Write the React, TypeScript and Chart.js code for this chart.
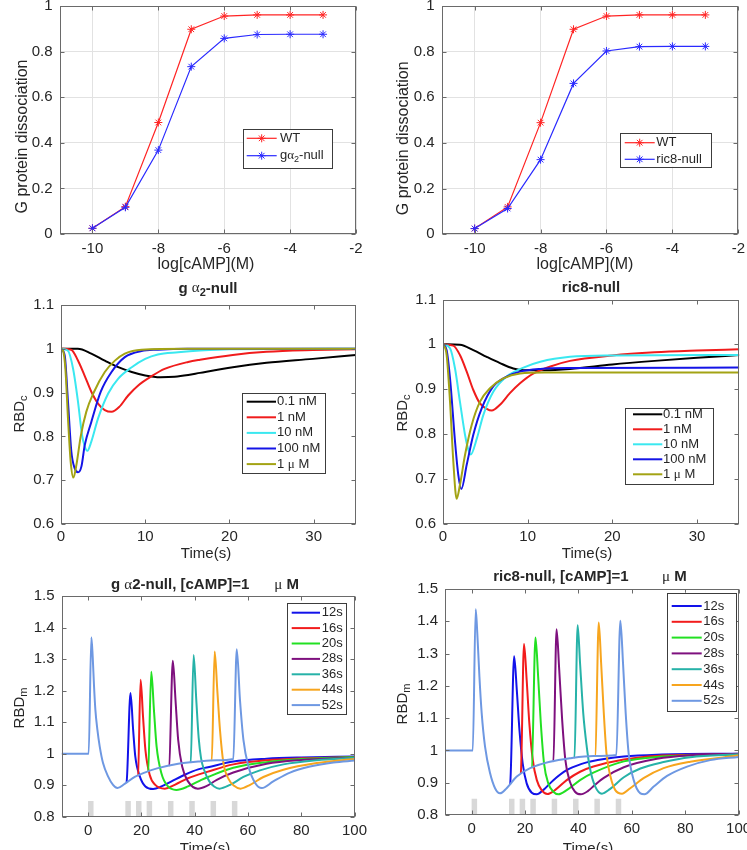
import React, { useEffect, useRef } from 'react';
import { Chart, registerables } from 'chart.js';

Chart.register(...registerables);

// ---------- data: dose response ----------
const LOG_CAMP = [-10, -9, -8, -7, -6, -5, -4, -3];
const WT_DISSOC = [0.025, 0.12, 0.489, 0.898, 0.956, 0.961, 0.961, 0.961];
const GA2_DISSOC = [0.025, 0.117, 0.368, 0.734, 0.858, 0.875, 0.876, 0.876];
const RIC8_DISSOC = [0.025, 0.113, 0.327, 0.661, 0.803, 0.822, 0.823, 0.823];
const LOG_TICKS = [-10, -8, -6, -4, -2];
const DISSOC_TICKS = [0, 0.2, 0.4, 0.6, 0.8, 1];

// ---------- data: cytosolic RBD after a single step, [t (s), RBDc] ----------
const C_LABELS = ['0.1 nM', '1 nM', '10 nM', '100 nM', '1 μ M'];
const GA2_C_01NM = [[0, 1], [2, 1], [3.6, 0.989], [5.2, 0.973], [6.8, 0.958], [8.4, 0.947], [10, 0.939], [11.8, 0.935], [13.5, 0.936], [15.1, 0.94], [16.5, 0.945], [20.4, 0.958], [24.4, 0.968], [29.9, 0.977], [35, 0.986]];
const GA2_C_1NM = [[0, 1], [1.2, 0.998], [2, 0.974], [2.8, 0.939], [3.6, 0.902], [4.4, 0.875], [5.2, 0.86], [6, 0.856], [6.9, 0.867], [8, 0.894], [9.2, 0.917], [10.8, 0.938], [12.3, 0.954], [15.1, 0.97], [16.5, 0.975], [20.4, 0.986], [24.4, 0.993], [29.9, 0.997], [35, 0.999]];
const GA2_C_10NM = [[0, 1], [0.8, 0.996], [1.43, 0.955], [2.02, 0.879], [2.5, 0.803], [2.82, 0.777], [3.13, 0.767], [3.6, 0.788], [4.4, 0.841], [5.6, 0.898], [6.8, 0.932], [8.4, 0.958], [10, 0.977], [11.5, 0.987], [13.9, 0.992], [16.5, 0.996], [20, 0.999], [35, 1]];
const GA2_C_100NM = [[0, 1], [0.44, 0.985], [0.83, 0.879], [1.23, 0.765], [1.63, 0.727], [2.02, 0.718], [2.42, 0.731], [2.82, 0.78], [3.6, 0.833], [4.72, 0.902], [6, 0.947], [7.58, 0.981], [9.56, 0.995], [11.5, 0.998], [15, 1], [35, 1]];
const GA2_C_1UM = [[0, 1], [0.24, 0.996], [0.52, 0.955], [0.83, 0.841], [1.15, 0.742], [1.47, 0.706], [1.83, 0.735], [2.34, 0.8], [3, 0.856], [3.93, 0.902], [5.2, 0.947], [6.4, 0.973], [7.58, 0.989], [9.56, 0.998], [15, 1], [35, 1]];

const RIC8_C_01NM = [[0, 1], [2, 0.999], [3.58, 0.987], [5.16, 0.972], [6.73, 0.958], [8.3, 0.946], [9.5, 0.942], [12, 0.942], [15, 0.945], [20, 0.955], [25, 0.963], [30, 0.97], [35, 0.976]];
const RIC8_C_1NM = [[0, 1], [1.22, 0.997], [2, 0.976], [2.8, 0.939], [3.58, 0.898], [4.37, 0.868], [5.16, 0.856], [5.75, 0.852], [6.73, 0.865], [7.9, 0.891], [9.1, 0.913], [10.7, 0.935], [12.6, 0.95], [15, 0.963], [20, 0.975], [25, 0.982], [30, 0.986], [35, 0.989]];
const RIC8_C_10NM = [[0, 1], [0.83, 0.991], [1.42, 0.946], [2, 0.872], [2.6, 0.798], [3, 0.764], [3.27, 0.754], [4, 0.79], [4.76, 0.842], [5.94, 0.894], [7.52, 0.928], [9.5, 0.948], [11.5, 0.961], [15, 0.972], [20, 0.975], [35, 0.976]];
const RIC8_C_100NM = [[0, 1], [0.43, 0.987], [0.83, 0.924], [1.42, 0.783], [1.81, 0.708], [2.17, 0.677], [2.8, 0.731], [3.58, 0.798], [4.57, 0.857], [5.94, 0.906], [7.52, 0.928], [9.1, 0.939], [11.5, 0.945], [15, 0.947], [35, 0.948]];
const RIC8_C_1UM = [[0, 1], [0.43, 0.976], [0.83, 0.872], [1.22, 0.738], [1.61, 0.655], [2, 0.686], [2.6, 0.753], [3.39, 0.82], [4.37, 0.872], [5.55, 0.902], [7.13, 0.924], [9.1, 0.935], [12, 0.937], [35, 0.937]];

const TIME_C_TICKS = [0, 10, 20, 30];
const RBDC_TICKS = [0.6, 0.7, 0.8, 0.9, 1, 1.1];

// ---------- data: membrane RBD, paired pulses of 1 μM, [t (s), RBDm] ----------
const M_LABELS = ['12s', '16s', '20s', '28s', '36s', '44s', '52s'];
const STIM_T = [1, 15, 19, 23, 31, 39, 47, 55];

const GA2_M_FIRST = [[-10, 1], [0.2, 1], [1.2, 1.369], [1.71, 1.308], [2.22, 1.213], [2.72, 1.139], [3.47, 1.076], [4.34, 1.023], [5.59, 0.97], [7.47, 0.928], [9.35, 0.901], [11, 0.891], [13.7, 0.904], [17.5, 0.926], [21.2, 0.94], [26.2, 0.954], [33.8, 0.968], [41.3, 0.975], [48.3, 0.979], [54.5, 0.983]];
const GA2_M_12S = [[14.4, 0.908], [15.9, 1.192], [16.9, 1.075], [17.7, 0.991], [19.4, 0.928], [21.5, 0.896], [24.4, 0.888], [27.5, 0.896], [31.3, 0.912], [36.3, 0.933], [41.3, 0.95], [45, 0.957], [54.5, 0.975], [67, 0.984], [80, 0.988], [100, 0.991]];
const GA2_M_16S = [[18.7, 0.929], [19.7, 1.234], [20.6, 1.118], [21.5, 1.012], [23.1, 0.933], [25.2, 0.901], [28.8, 0.889], [32.5, 0.901], [37.5, 0.922], [45, 0.943], [54.5, 0.966], [67, 0.979], [80, 0.985], [100, 0.989]];
const GA2_M_20S = [[22.5, 0.943], [23.7, 1.26], [24.7, 1.139], [25.7, 1.023], [27.5, 0.938], [30, 0.896], [33.1, 0.885], [37.5, 0.896], [42.5, 0.917], [45, 0.926], [54.5, 0.955], [67, 0.973], [80, 0.983], [100, 0.989]];
const GA2_M_28S = [[30.4, 0.962], [31.8, 1.295], [32.8, 1.17], [33.8, 1.044], [35.3, 0.959], [37.5, 0.912], [41.2, 0.889], [44.4, 0.897], [48.3, 0.917], [54.5, 0.94], [67, 0.968], [80, 0.98], [100, 0.988]];
const GA2_M_36S = [[38.5, 0.972], [39.6, 1.313], [40.6, 1.17], [41.5, 1.05], [42.4, 0.985], [43.7, 0.945], [45.5, 0.912], [47.3, 0.896], [49.3, 0.889], [53.3, 0.901], [58.3, 0.926], [64.5, 0.947], [73.3, 0.966], [85.8, 0.979], [100, 0.987]];
const GA2_M_44S = [[46.4, 0.978], [47.5, 1.324], [48.5, 1.2], [49.5, 1.075], [50.8, 0.97], [52.7, 0.92], [54.8, 0.898], [57.2, 0.889], [60.8, 0.901], [65.8, 0.926], [73.3, 0.949], [85.8, 0.97], [100, 0.983]];
const GA2_M_52S = [[54.5, 0.983], [55.8, 1.331], [57, 1.171], [58.3, 1.044], [60.2, 0.959], [62.7, 0.907], [65.2, 0.891], [69.5, 0.912], [75.8, 0.94], [83.3, 0.959], [92.1, 0.972], [100, 0.978]];

const RIC8_M_FIRST = [[-10, 1], [0.4, 1], [1.5, 1.437], [2.1, 1.363], [2.9, 1.228], [3.75, 1.115], [5, 1.012], [6.9, 0.929], [8.75, 0.883], [10.6, 0.867], [13.1, 0.883], [16.9, 0.919], [21.9, 0.945], [29.3, 0.965], [36.8, 0.976], [45.6, 0.983], [54.2, 0.986]];
const RIC8_M_12S = [[14.4, 0.895], [15.9, 1.292], [16.9, 1.187], [17.9, 1.063], [19.1, 0.96], [20.6, 0.898], [22.5, 0.869], [24.4, 0.864], [26.8, 0.877], [30.6, 0.908], [35.6, 0.939], [41.8, 0.96], [44.5, 0.966], [57, 0.981], [69.4, 0.987], [100, 0.99]];
const RIC8_M_16S = [[18.4, 0.93], [19.6, 1.33], [20.6, 1.218], [21.6, 1.084], [22.9, 0.97], [24.4, 0.908], [26.2, 0.877], [28.4, 0.865], [31.2, 0.877], [35.6, 0.908], [40.6, 0.934], [45.6, 0.95], [57, 0.972], [69.4, 0.983], [100, 0.988]];
const RIC8_M_20S = [[22.5, 0.946], [23.9, 1.35], [24.9, 1.228], [25.9, 1.084], [27.1, 0.96], [28.7, 0.898], [30.6, 0.872], [32.5, 0.864], [35.6, 0.877], [40.6, 0.908], [45.6, 0.931], [57, 0.966], [69.4, 0.98], [100, 0.987]];
const RIC8_M_28S = [[30.6, 0.966], [31.8, 1.375], [32.8, 1.249], [33.9, 1.094], [35.1, 0.97], [36.8, 0.903], [38.7, 0.872], [40.9, 0.864], [43.5, 0.874], [46, 0.892], [49.5, 0.915], [57, 0.948], [69.4, 0.974], [81.9, 0.985], [100, 0.99]];
const RIC8_M_36S = [[38.5, 0.977], [39.7, 1.388], [40.6, 1.27], [41.8, 1.115], [43.1, 1.012], [44.3, 0.945], [46.3, 0.888], [48.8, 0.866], [51.9, 0.881], [57, 0.917], [63.2, 0.944], [71.9, 0.964], [81.9, 0.979], [100, 0.988]];
const RIC8_M_44S = [[46.3, 0.984], [47.6, 1.396], [48.5, 1.27], [49.5, 1.115], [50.5, 0.991], [52, 0.919], [53.8, 0.877], [56.3, 0.866], [59.4, 0.883], [64.4, 0.914], [71.9, 0.945], [81.9, 0.965], [100, 0.984]];
const RIC8_M_52S = [[54.2, 0.986], [55.7, 1.402], [56.7, 1.27], [57.7, 1.115], [58.8, 0.991], [60.7, 0.908], [63.2, 0.867], [64.7, 0.864], [68.2, 0.888], [73.2, 0.921], [80.7, 0.95], [89.4, 0.97], [100, 0.98]];

const TIME_M_TICKS = [0, 20, 40, 60, 80, 100];
const RBDM_TICKS = [0.8, 0.9, 1, 1.1, 1.2, 1.3, 1.4, 1.5];

// ---------- styling ----------
const W = 747;
const H = 850;
const YW = 40;
const XH = 30;
const FONT = '"Liberation Sans", Arial, Helvetica, sans-serif';
const GREEK_FONT = '"Liberation Serif", "DejaVu Serif", serif';
const INK = '#262626';
const FRAME = '#6a6a6a';
const GRID = '#e2e2e2';
const RED_THIN = '#ff2424';
const BLUE_THIN = '#2a2aff';
const C_COLORS = ['#000000', '#f01c1c', '#3ae8f0', '#1414e6', '#a3a314'];
const M_COLORS = ['#1212ea', '#f21c1c', '#22e022', '#7e107e', '#26b2a8', '#f7a51e', '#6e98e2'];
const STIM_COLOR = '#d8d8d8';
const HIDDEN = 'rgba(0,0,0,0)';

type Seg = { t: string; sub: boolean; greek: boolean };

// "_x" makes x a subscript; Greek letters are set in a serif face
function richSegments(s: string): Seg[] {
  const out: Seg[] = [];
  for (let i = 0; i < s.length; i++) {
    const ch = s[i];
    if (ch === '_' && i + 1 < s.length) {
      out.push({ t: s[i + 1], sub: true, greek: false });
      i++;
      continue;
    }
    const greek = /[\u0391-\u03c9]/.test(ch);
    const last = out[out.length - 1];
    if (last && !last.sub && last.greek === greek) last.t += ch;
    else out.push({ t: ch, sub: false, greek });
  }
  return out;
}

function segFont(seg: Seg, size: number, bold: boolean) {
  if (seg.greek) return `${size}px ${GREEK_FONT}`;
  const sz = seg.sub ? Math.round(size * 0.72) : size;
  return `${bold ? 'bold ' : ''}${sz}px ${FONT}`;
}

function drawRich(ctx: CanvasRenderingContext2D, s: string, x: number, y: number, size: number, bold: boolean, align: 'left' | 'center', rotate = false) {
  const segs = richSegments(s);
  let total = 0;
  const widths = segs.map((seg) => {
    ctx.font = segFont(seg, size, bold);
    const w = ctx.measureText(seg.t).width;
    total += w;
    return w;
  });
  ctx.save();
  ctx.translate(x, y);
  if (rotate) ctx.rotate(-Math.PI / 2);
  ctx.textAlign = 'left';
  ctx.textBaseline = 'middle';
  ctx.fillStyle = INK;
  let cx = align === 'center' ? -total / 2 : 0;
  segs.forEach((seg, i) => {
    ctx.font = segFont(seg, size, bold);
    ctx.fillText(seg.t, cx, seg.sub ? size * 0.32 : 0);
    cx += widths[i];
  });
  ctx.restore();
}

function drawStar(ctx: CanvasRenderingContext2D, x: number, y: number, r: number, color: string) {
  ctx.save();
  ctx.strokeStyle = color;
  ctx.lineWidth = 1;
  ctx.beginPath();
  for (let k = 0; k < 4; k++) {
    const a = (k * Math.PI) / 4;
    ctx.moveTo(x - Math.cos(a) * r, y - Math.sin(a) * r);
    ctx.lineTo(x + Math.cos(a) * r, y + Math.sin(a) * r);
  }
  ctx.stroke();
  ctx.restore();
}

// Frame with inward ticks, titles, axis labels and a boxed legend.
const decorPlugin = {
  id: 'decor',
  afterDraw(chart: any, _args: any, o: any) {
    const { ctx, chartArea: a, scales } = chart;
    ctx.save();
    const L = Math.round(a.left) + 0.5;
    const R = Math.round(a.right) - 0.5;
    const T = Math.round(a.top) + 0.5;
    const B = Math.round(a.bottom) - 0.5;
    ctx.strokeStyle = FRAME;
    ctx.lineWidth = 1;
    ctx.beginPath();
    for (const tk of scales.x.ticks) {
      const px = Math.round(scales.x.getPixelForValue(tk.value)) + 0.5;
      ctx.moveTo(px, B);
      ctx.lineTo(px, B - 4);
      ctx.moveTo(px, T);
      ctx.lineTo(px, T + 4);
    }
    for (const tk of scales.y.ticks) {
      const py = Math.round(scales.y.getPixelForValue(tk.value)) + 0.5;
      ctx.moveTo(L, py);
      ctx.lineTo(L + 4, py);
      ctx.moveTo(R, py);
      ctx.lineTo(R - 4, py);
    }
    ctx.stroke();
    ctx.strokeRect(L, T, R - L, B - T);

    if (o.title) drawRich(ctx, o.title.text, o.title.x, o.title.y, 15, true, 'center');
    if (o.xLabel) drawRich(ctx, o.xLabel.text, o.xLabel.x, o.xLabel.y, o.xLabel.size, false, 'center');
    if (o.yLabel) drawRich(ctx, o.yLabel.text, o.yLabel.x, o.yLabel.y, o.yLabel.size, false, 'center', true);

    const g = o.legend;
    if (g) {
      const [x0, y0, x1, y1] = g.box;
      ctx.fillStyle = '#ffffff';
      ctx.fillRect(x0, y0, x1 - x0, y1 - y0);
      ctx.strokeStyle = '#3c3c3c';
      ctx.lineWidth = 1;
      ctx.strokeRect(Math.round(x0) + 0.5, Math.round(y0) + 0.5, Math.round(x1 - x0), Math.round(y1 - y0));
      g.items.forEach((it: any, i: number) => {
        const y = g.row0 + i * g.step;
        ctx.strokeStyle = it.color;
        ctx.lineWidth = it.width;
        ctx.beginPath();
        ctx.moveTo(g.line[0], y);
        ctx.lineTo(g.line[1], y);
        ctx.stroke();
        if (it.marker) drawStar(ctx, (g.line[0] + g.line[1]) / 2, y, 4, it.color);
        drawRich(ctx, it.label, g.textX, y, 13, false, 'left');
      });
    }
    ctx.restore();
  },
};

function pts(arr: number[][]) {
  return arr.map(([x, y]) => ({ x, y }));
}

// a paired-pulse trace: the shared first response up to the second pulse, then its own course
function pulsed(first: number[][], own: number[][]) {
  const t0 = own[0][0];
  return [...first.filter((p) => p[0] < t0), ...own];
}

function stimulusSet(times: number[]) {
  const data: { x: number; y: number | null }[] = [];
  times.forEach((t) => {
    data.push({ x: t, y: 0.8 }, { x: t, y: 0.85 }, { x: t, y: null });
  });
  return {
    label: 'stimulus',
    data,
    borderColor: STIM_COLOR,
    borderWidth: 5.5,
    borderCapStyle: 'butt',
    pointRadius: 0,
    tension: 0,
    spanGaps: false,
    order: 100,
  };
}

function curveSets(curves: number[][][], colors: string[], labels: string[]) {
  return curves.map((c, i) => ({
    label: labels[i],
    data: pts(c),
    borderColor: colors[i],
    borderWidth: 2,
    pointRadius: 0,
    cubicInterpolationMode: 'monotone',
    order: curves.length - i,
  }));
}

// paired-pulse traces; the shared first response is stroked once, by the last trace on top
function pulseSets(first: number[][], owns: number[][][]) {
  const sets = curveSets(owns.map((own) => pulsed(first, own)), M_COLORS, M_LABELS);
  return sets.map((s: any, i) => {
    if (i === owns.length - 1) return s;
    const t0 = owns[i][0][0];
    return {
      ...s,
      segment: { borderColor: (sc: any) => (sc.p1.parsed.x <= t0 ? HIDDEN : undefined) },
    };
  });
}

function doseSets(mutant: number[], mutantName: string) {
  const mk = (vals: number[], color: string, label: string, order: number) => ({
    label,
    data: LOG_CAMP.map((x, i) => ({ x, y: vals[i] })),
    borderColor: color,
    borderWidth: 1.2,
    tension: 0,
    pointStyle: 'star',
    pointRadius: 4,
    pointBorderColor: color,
    pointBorderWidth: 1,
    order,
  });
  return [mk(WT_DISSOC, RED_THIN, 'WT', 2), mk(mutant, BLUE_THIN, mutantName, 1)];
}

function legendItems(labels: string[], colors: string[], width: number, marker = false) {
  return labels.map((label, i) => ({ label, color: colors[i], width, marker }));
}

interface Panel {
  area: [number, number, number, number];
  x: [number, number, number[]];
  y: [number, number, number[]];
  grid: boolean;
  xPad: number;
  datasets: any[];
  decor: any;
}

const PANELS: Panel[] = [
  {
    area: [59.5, 6, 356, 234],
    x: [-11, -2, LOG_TICKS],
    y: [0, 1, DISSOC_TICKS],
    grid: true,
    xPad: 6,
    datasets: doseSets(GA2_DISSOC, 'gα_2-null'),
    decor: {
      xLabel: { text: 'log[cAMP](M)', x: 206, y: 264.5, size: 16 },
      yLabel: { text: 'G protein dissociation', x: 22.5, y: 136.5, size: 16 },
      legend: { box: [243.3, 129, 332.3, 168.3], row0: 138.3, step: 17.4, line: [246.7, 276.7], textX: 280, items: legendItems(['WT', 'gα_2-null'], [RED_THIN, BLUE_THIN], 1.2, true) },
    },
  },
  {
    area: [441.7, 6, 738.3, 234.3],
    x: [-11, -2, LOG_TICKS],
    y: [0, 1, DISSOC_TICKS],
    grid: true,
    xPad: 6,
    datasets: doseSets(RIC8_DISSOC, 'ric8-null'),
    decor: {
      xLabel: { text: 'log[cAMP](M)', x: 585, y: 264.5, size: 16 },
      yLabel: { text: 'G protein dissociation', x: 404, y: 138.3, size: 16 },
      legend: { box: [620.3, 132.7, 711.3, 166.7], row0: 142.7, step: 16.6, line: [624.7, 654.7], textX: 656.3, items: legendItems(['WT', 'ric8-null'], [RED_THIN, BLUE_THIN], 1.2, true) },
    },
  },
  {
    area: [61, 305, 355.8, 524],
    x: [0, 35, TIME_C_TICKS],
    y: [0.6, 1.1, RBDC_TICKS],
    grid: false,
    xPad: 4,
    datasets: curveSets([GA2_C_01NM, GA2_C_1NM, GA2_C_10NM, GA2_C_100NM, GA2_C_1UM], C_COLORS, C_LABELS),
    decor: {
      title: { text: 'g α_2-null', x: 208, y: 288.5 },
      xLabel: { text: 'Time(s)', x: 206, y: 554, size: 15 },
      yLabel: { text: 'RBD_c', x: 19.5, y: 414, size: 15 },
      legend: { box: [242.3, 392.7, 325, 472.7], row0: 401.7, step: 15.6, line: [246.7, 276], textX: 277, items: legendItems(C_LABELS, C_COLORS, 2) },
    },
  },
  {
    area: [443, 299.5, 739.3, 523.5],
    x: [0, 35, TIME_C_TICKS],
    y: [0.6, 1.1, RBDC_TICKS],
    grid: false,
    xPad: 4,
    datasets: curveSets([RIC8_C_01NM, RIC8_C_1NM, RIC8_C_10NM, RIC8_C_100NM, RIC8_C_1UM], C_COLORS, C_LABELS),
    decor: {
      title: { text: 'ric8-null', x: 591, y: 287.5 },
      xLabel: { text: 'Time(s)', x: 587, y: 554, size: 15 },
      yLabel: { text: 'RBD_c', x: 402.5, y: 413, size: 15 },
      legend: { box: [625.3, 407.7, 713, 484], row0: 414.3, step: 15, line: [633, 662.3], textX: 663, items: legendItems(C_LABELS, C_COLORS, 2) },
    },
  },
  {
    area: [61.5, 596, 354.5, 816.7],
    x: [-10, 100, TIME_M_TICKS],
    y: [0.8, 1.5, RBDM_TICKS],
    grid: false,
    xPad: 5,
    datasets: [
      stimulusSet(STIM_T),
      ...pulseSets(GA2_M_FIRST, [GA2_M_12S, GA2_M_16S, GA2_M_20S, GA2_M_28S, GA2_M_36S, GA2_M_44S, GA2_M_52S]),
    ],
    decor: {
      title: { text: 'g α2-null, [cAMP]=1      μ M', x: 205, y: 585 },
      xLabel: { text: 'Time(s)', x: 205, y: 849, size: 15 },
      yLabel: { text: 'RBD_m', x: 19.5, y: 708, size: 15 },
      legend: { box: [287.3, 602.7, 346.7, 714], row0: 612.7, step: 15.4, line: [291.7, 320], textX: 321.7, items: legendItems(M_LABELS, M_COLORS, 2) },
    },
  },
  {
    area: [445, 589, 738.6, 815],
    x: [-10, 100, TIME_M_TICKS],
    y: [0.8, 1.5, RBDM_TICKS],
    grid: false,
    xPad: 5,
    datasets: [
      stimulusSet(STIM_T),
      ...pulseSets(RIC8_M_FIRST, [RIC8_M_12S, RIC8_M_16S, RIC8_M_20S, RIC8_M_28S, RIC8_M_36S, RIC8_M_44S, RIC8_M_52S]),
    ],
    decor: {
      title: { text: 'ric8-null, [cAMP]=1        μ M', x: 590, y: 577 },
      xLabel: { text: 'Time(s)', x: 588, y: 849, size: 15 },
      yLabel: { text: 'RBD_m', x: 402.5, y: 704, size: 15 },
      legend: { box: [667.3, 592.7, 736.7, 710.7], row0: 606, step: 15.8, line: [671.7, 701.7], textX: 703.3, items: legendItems(M_LABELS, M_COLORS, 2) },
    },
  },
];

function axis(kind: 'x' | 'y', min: number, max: number, ticks: number[], grid: boolean, pad: number) {
  return {
    type: 'linear',
    position: kind === 'x' ? 'bottom' : 'left',
    min,
    max,
    grid: { display: grid, color: GRID, drawTicks: false, lineWidth: 1 },
    border: { display: false },
    afterBuildTicks: (s: any) => {
      s.ticks = ticks.map((value) => ({ value }));
    },
    afterFit: (s: any) => {
      if (kind === 'x') s.height = XH;
      else s.width = YW;
      s.paddingLeft = 0;
      s.paddingRight = 0;
      s.paddingTop = 0;
      s.paddingBottom = 0;
    },
    ticks: {
      autoSkip: false,
      maxRotation: 0,
      minRotation: 0,
      padding: pad,
      color: INK,
      font: { family: FONT, size: 15 },
      callback: (v: number) => String(v),
    },
  };
}

function build(canvas: HTMLCanvasElement, p: Panel) {
  const [l, t, r, b] = p.area;
  return new Chart(canvas, {
    type: 'line',
    data: { datasets: p.datasets },
    plugins: [decorPlugin],
    options: {
      animation: false,
      responsive: false,
      events: [],
      layout: { padding: { left: l - YW, top: t, right: W - r, bottom: H - b - XH } },
      scales: {
        x: axis('x', p.x[0], p.x[1], p.x[2], p.grid, p.xPad),
        y: axis('y', p.y[0], p.y[1], p.y[2], p.grid, 7),
      },
      plugins: {
        legend: { display: false },
        tooltip: { enabled: false },
        decor: p.decor,
      },
    } as any,
  } as any);
}

export default function App() {
  const refs = useRef<(HTMLCanvasElement | null)[]>([]);
  useEffect(() => {
    const charts = PANELS.map((p, i) => build(refs.current[i] as HTMLCanvasElement, p));
    return () => charts.forEach((c) => c.destroy());
  }, []);
  return (
    <div style={{ position: 'absolute', left: 0, top: 0, width: W, height: H, background: '#ffffff', overflow: 'hidden' }}>
      {PANELS.map((_, i) => (
        <canvas
          key={i}
          ref={(el) => {
            refs.current[i] = el;
          }}
          width={W}
          height={H}
          style={{ position: 'absolute', left: 0, top: 0 }}
        />
      ))}
    </div>
  );
}
